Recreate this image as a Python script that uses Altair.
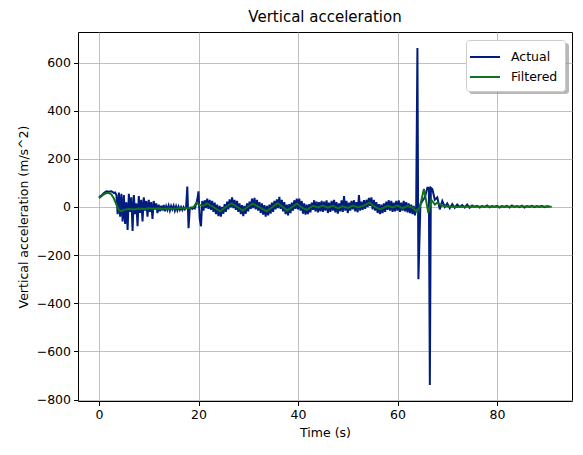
import altair as alt
import pandas as pd

# Actual signal: uniform 0.25 s samples for 0..63.75 s (rows of 5 s)
actual_a = [
    40, 44, 48, 53, 58, 62, 65, 64, 63, 64, 65, 62, 58, 60, 50, -30, 60, -40, 55, -60,
    50, -70, 20, -95, 55, -20, 40, -100, 50, -30, 15, -80, 45, -25, 30, -60, 40, -15, 25, -40,
    30, -20, 20, -50, 25, -10, 15, -25, 10, -18, 5, -15, 8, -18, 3, -12, 6, -15, 4, -10,
    5, -15, 3, -14, 2, -12, 0, -12, 0, -10, -3, 85, -88, -5, -4, -8, -3, -6, 10, 30,
    65, -50, -80, 25, -15, 28, -5, 35, -8, 30, -12, 25, -20, 18, -30, 10, -38, 5, -40, 0,
    -28, 12, -20, 22, -10, 32, -2, 40, -5, 30, -12, 25, -20, 15, -30, 8, -38, 5, -28, 15,
    -18, 22, -8, 35, -5, 38, -10, 30, -15, 20, -25, 15, -32, 8, -40, 5, -35, 10, -28, 18,
    -20, 25, -10, 32, -5, 42, -8, 30, -18, 20, -30, 10, -35, 12, -25, 18, -15, 28, -8, 35,
    -10, 35, -15, 25, -28, 15, -32, 10, -30, 12, -22, 18, -12, 28, -18, 22, -22, 20, -18, 25,
    -20, 22, -15, 28, -25, 18, -20, 25, -15, 30, -22, 20, -28, 15, -18, 28, -20, 45, -15, 25,
    -25, 18, -15, 25, -10, 28, -18, 20, -22, 50, -15, 22, -12, 28, -8, 30, 0, 38, 5, 40,
    -10, 30, -15, 20, -25, 12, -30, 10, -25, 15, -20, 22, -12, 28, -15, 25, -20, 18, -18, 25,
    -15, 28, -20, 18, -15, 25, -18, 20, -22, 15, -25, 10, -30, 5, -35, 0,
]
# spike region, irregular times
spike_t = [64.0, 64.2, 64.6, 65.0, 65.5, 66.0, 66.3, 66.5, 66.7, 67.0, 67.5]
spike_v = [660, -300, 10, 25, 40, 80, 80, -740, 80, 75, 30]
# tail: uniform 0.5 s samples from 68 to 90.5 s
actual_c = [
    40, -10, 25, 0, 15, -5, 12, -3, 10, 0, 8, -2, 10, -3, 6, 0, 5, -2, 4, 0,
    6, -1, 4, 0, 5, -2, 4, 0, 5, -2, 6, 0, 4, -1, 5, -2, 4, 0, 5, -1, 4, 0, 5, -1, 3, 2,
]

filt_t = [0, 0.5, 1, 1.5, 2, 2.5, 3, 3.5, 4, 4.5, 5, 6, 7, 8, 9, 10, 11, 12, 13, 14, 15, 16, 17, 18, 19,
          19.6, 20.2, 21, 21.7, 23, 24.3, 25.5, 26.7, 27.8, 28.9, 30, 30.9, 32.3, 33.7, 35, 35.9, 37,
          37.8, 38.8, 39.8, 41, 41.8, 43, 44, 45, 46, 47, 48, 49, 50, 51, 52, 53, 54.4, 55.5, 56.5,
          58, 59, 60, 61, 62, 63, 63.9, 64.5, 65.3, 65.8, 66.2, 66.8, 67.5, 68, 69, 70, 72, 75, 80,
          85, 91]
filt_v = [37, 45, 53, 58, 58, 52, 35, 10, -12, -18, -12, -8, -10, -6, -8, -5, -7, -6, -7, -6, -7, -5, -5, -4, 0,
          18, 8, 5, 15, 0, -18, 0, 15, 0, -15, 2, 14, -2, -18, 2, 16, 0,
          -15, 0, 14, -5, -12, 5, -2, 6, -3, 5, -5, 3, -4, 6, -2, 4, 18, 0, -10,
          5, -2, 6, -5, 4, -3, -20, 0, 75, 20, -25, 30, 10, 18, 5, 2, 0, 2, 1,
          2, 1]

act_t = [i * 0.25 for i in range(len(actual_a))] + spike_t + [68 + i * 0.5 for i in range(len(actual_c))]
act_v = actual_a + spike_v + actual_c

df_a = pd.DataFrame({"t": act_t, "v": act_v, "s": "Actual", "o": range(len(act_t))})
df_f = pd.DataFrame({"t": filt_t, "v": filt_v, "s": "Filtered", "o": range(len(filt_t))})

FONT = "DejaVu Sans"
color = alt.Color("s:N", title=None,
                  scale=alt.Scale(domain=["Actual", "Filtered"], range=["#001c7f", "#12711c"]),
                  legend=alt.Legend(orient="none", legendX=388, legendY=8,
                                    symbolType="M-1.667,0H1.667",
                                    symbolStrokeWidth=2, symbolSize=324, symbolOffset=2,
                                    labelFontSize=12.5, labelFont=FONT, labelColor="black",
                                    fillColor="white", strokeColor="#cccccc", cornerRadius=3,
                                    padding=7, rowPadding=3, labelOffset=16))

x = alt.X("t:Q", title="Time (s)",
          scale=alt.Scale(domain=[-4.22, 95.07], nice=False, zero=False),
          axis=alt.Axis(values=[0, 20, 40, 60, 80], format="d"))
y = alt.Y("v:Q", title="Vertical acceleration (m/s^2)",
          scale=alt.Scale(domain=[-806, 727], nice=False, zero=False),
          axis=alt.Axis(values=[-800, -600, -400, -200, 0, 200, 400, 600], format="d"))

la = alt.Chart(df_a).mark_line(strokeWidth=2).encode(x=x, y=y, color=color, order="o:Q")
lf = alt.Chart(df_f).mark_line(strokeWidth=2).encode(x=x, y=y, color=color, order="o:Q")

# legend drop shadow (decoration behind the legend box)
shadow = alt.Chart(pd.DataFrame({"k": [0]})).mark_rect(
    color="#888888", opacity=0.6, cornerRadius=3
).encode(x=alt.value(391), x2=alt.value(491), y=alt.value(11), y2=alt.value(62))

chart = alt.layer(la, lf, shadow).properties(
    width=494, height=369,
    autosize=alt.AutoSizeParams(type="none"),
    padding={"left": 70, "top": 24, "right": 3, "bottom": 38},
    title=alt.Title("Vertical acceleration", fontSize=15, fontWeight="normal", font=FONT,
                    color="black", offset=7),
).configure_view(stroke="black", strokeWidth=1).configure_axis(
    grid=True, gridColor="#b0b0b0", gridWidth=0.8, domain=False,
    tickColor="black", tickSize=4.5, labelFont=FONT, labelFontSize=12.5, labelColor="black",
    titleFont=FONT, titleFontSize=12.5, titleFontWeight="normal", titleColor="black",
    labelPadding=3,
).configure_axisX(titlePadding=5).configure_axisY(titlePadding=6)

chart.save("out.html", embed_options={"renderer": "svg", "actions": False})
